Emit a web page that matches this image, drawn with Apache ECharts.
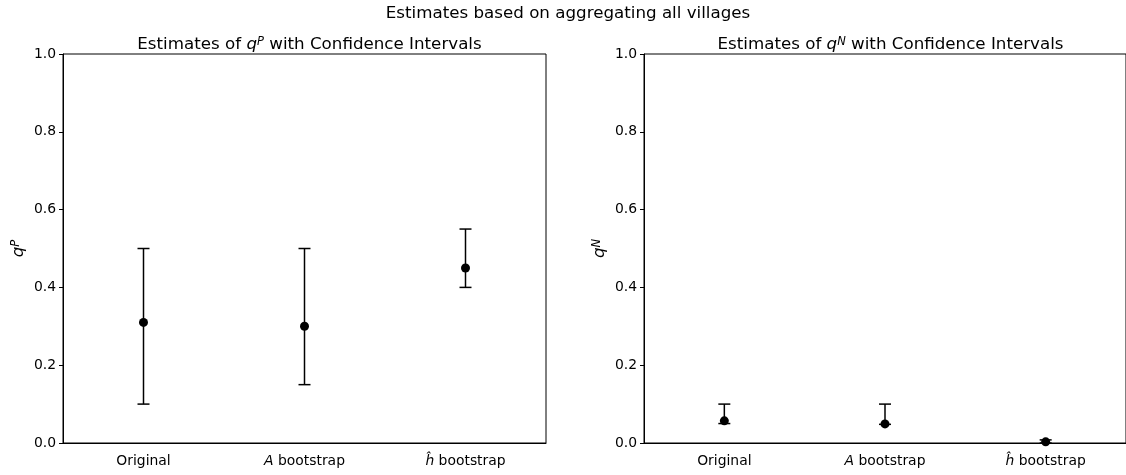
<!DOCTYPE html>
<html>
<head>
<meta charset="utf-8">
<script src="https://cdn.jsdelivr.net/npm/echarts@6/dist/echarts.min.js"></script>
<style>
html, body { margin: 0; padding: 0; background: #fff; }
#chart { width: 1126px; height: 475px; }
</style>
</head>
<body>
<div id="chart"></div>
<script>
var methods = ['Original', 'A bootstrap', 'ĥ bootstrap'];
var yTicks = [0, 0.2, 0.4, 0.6, 0.8, 1.0];

// q^P: estimate, lower bound, upper bound
var qpEst = [0.31, 0.30, 0.45];
var qpLow = [0.10, 0.15, 0.40];
var qpHigh = [0.50, 0.50, 0.55];

// q^N
var qnEst = [0.057, 0.049, 0.003];
var qnLow = [0.050, 0.048, 0.0];
var qnHigh = [0.10, 0.10, 0.008];

var font = 'DejaVu Sans';

var buildData = function(est, low, high){
	let arr = [];
	est.forEach(function(v, i){
		arr.push([i, v, low[i], high[i]]);
	})
	return arr;
}

var renderErr = function(params, api){
	var x = api.value(0);
	var mid = api.coord([x, api.value(1)]);
	var lo = api.coord([x, api.value(2)]);
	var hi = api.coord([x, api.value(3)]);
	var cap = 6;
	var ls = { stroke: '#000', lineWidth: 1.5 };
	return {
		type: 'group',
		children: [
			{ type: 'line', shape: { x1: lo[0], y1: lo[1], x2: hi[0], y2: hi[1] }, style: ls },
			{ type: 'line', shape: { x1: lo[0] - cap, y1: lo[1], x2: lo[0] + cap, y2: lo[1] }, style: ls },
			{ type: 'line', shape: { x1: hi[0] - cap, y1: hi[1], x2: hi[0] + cap, y2: hi[1] }, style: ls },
			{ type: 'circle', shape: { cx: mid[0], cy: mid[1], r: 4.5 }, style: { fill: '#000' } }
		]
	};
}

var richItalic = {
	i: { fontFamily: font, fontStyle: 'italic', fontSize: 13.9, color: '#000' }
};

var xAxisOf = function(idx){
	return {
		type: 'category',
		gridIndex: idx,
		data: methods,
		boundaryGap: true,
		axisLine: { lineStyle: { color: '#000', width: 1 } },
		axisTick: { alignWithLabel: true, length: 4, lineStyle: { color: '#000' } },
		axisLabel: {
			color: '#000', fontFamily: font, fontSize: 13.9, margin: 11,
			formatter: function(v){
				if (v === 'A bootstrap') return '{i|A} bootstrap';
				if (v === 'ĥ bootstrap') return '{i|ĥ} bootstrap';
				return v;
			},
			rich: richItalic
		},
		splitLine: { show: false }
	};
}

var yAxisOf = function(idx, sup){
	return {
		type: 'value',
		gridIndex: idx,
		min: 0,
		max: 1,
		interval: 0.2,
		name: '{i|q}{s|' + sup + '}',
		nameLocation: 'middle',
		nameGap: 36,
		nameRotate: 90,
		nameTextStyle: {
			rich: {
				i: { fontFamily: font, fontStyle: 'italic', fontSize: 16.7, color: '#000' },
				s: { fontFamily: font, fontStyle: 'italic', fontSize: 11.5, color: '#000', verticalAlign: 'top' }
			}
		},
		axisLine: { show: true, lineStyle: { color: '#000', width: 1 } },
		axisTick: { show: true, length: 4, lineStyle: { color: '#000' } },
		axisLabel: {
			color: '#000', fontFamily: font, fontSize: 13.9, margin: 7,
			formatter: function(v){ return v.toFixed(1); }
		},
		splitLine: { show: false }
	};
}

var titleOf = function(sup, x){
	return {
		text: 'Estimates of {i|q}{s|' + sup + '} with Confidence Intervals',
		left: x,
		top: 31,
		textAlign: 'center',
		textStyle: {
			fontFamily: font, fontSize: 16.7, fontWeight: 'normal', color: '#000',
			rich: {
				i: { fontFamily: font, fontStyle: 'italic', fontSize: 16.7, color: '#000' },
				s: { fontFamily: font, fontStyle: 'italic', fontSize: 11.5, color: '#000', verticalAlign: 'top' }
			}
		}
	};
}

var chart = echarts.init(document.getElementById('chart'));
var option = {
	backgroundColor: '#fff',
	animation: false,
	title: [
		{
			text: 'Estimates based on aggregating all villages',
			left: 563,
			top: 0,
			textAlign: 'center',
			textStyle: { fontFamily: font, fontSize: 16.7, fontWeight: 'normal', color: '#000' }
		},
		titleOf('P', 304.5),
		titleOf('N', 885.5)
	],
	grid: [
		{ left: 63, top: 54, width: 483, height: 389, show: true, borderColor: '#000', borderWidth: 1 },
		{ left: 644, top: 54, width: 483, height: 389, show: true, borderColor: '#000', borderWidth: 1 }
	],
	xAxis: [xAxisOf(0), xAxisOf(1)],
	yAxis: [yAxisOf(0, 'P'), yAxisOf(1, 'N')],
	series: [
		{
			type: 'custom',
			xAxisIndex: 0,
			yAxisIndex: 0,
			renderItem: renderErr,
			data: buildData(qpEst, qpLow, qpHigh),
			encode: { x: 0, y: [1, 2, 3] }
		},
		{
			type: 'custom',
			xAxisIndex: 1,
			yAxisIndex: 1,
			renderItem: renderErr,
			data: buildData(qnEst, qnLow, qnHigh),
			encode: { x: 0, y: [1, 2, 3] }
		}
	]
};
chart.setOption(option);
</script>
</body>
</html>
